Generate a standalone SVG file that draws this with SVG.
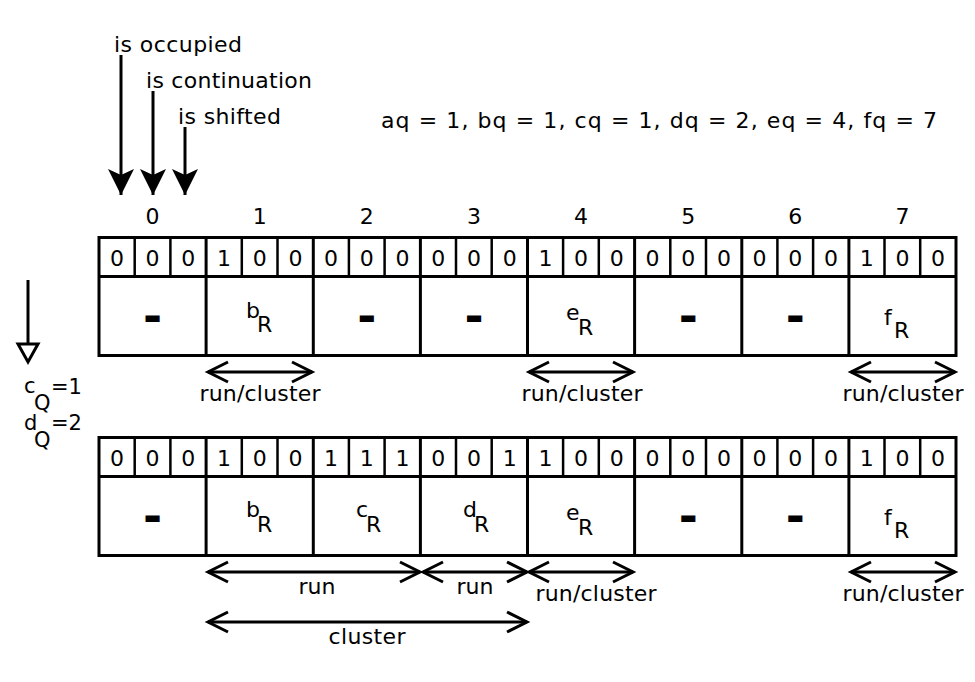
<svg xmlns="http://www.w3.org/2000/svg" width="975" height="682" viewBox="0 0 975 682">
<defs>
<style>
text{font-family:"DejaVu Sans","Liberation Sans",sans-serif;fill:#000}
.t{font-size:22px}
.m{text-anchor:middle}
.bit{font-size:22px;text-anchor:middle}
.idx{font-size:22px;text-anchor:middle}
.q{font-size:21px}
.dash{font-size:46px;font-weight:bold;text-anchor:middle}
.grid{fill:none;stroke:#000;stroke-width:3}
.thin{fill:none;stroke:#000;stroke-width:2.5}
.arr{fill:none;stroke:#000;stroke-width:3}
.dbl{fill:none;stroke:#000;stroke-width:3;marker-start:url(#chev);marker-end:url(#chev)}
</style>
<marker id="head" markerUnits="userSpaceOnUse" orient="auto" markerWidth="30" markerHeight="30" refX="0" refY="0" viewBox="-28 -14 30 28" overflow="visible">
<path d="M0,0 L-26,-13 L-20,0 L-26,13 Z" fill="#000"/>
</marker>
<marker id="chev" markerUnits="userSpaceOnUse" orient="auto-start-reverse" markerWidth="30" markerHeight="30" refX="0" refY="0" viewBox="-28 -14 30 28" overflow="visible">
<path d="M-20,-10 L0,0 L-20,10" fill="none" stroke="#000" stroke-width="3"/>
</marker>
</defs>
<rect width="975" height="682" fill="#fff"/>

<g id="legend">
<text class="t" x="114" y="52" textLength="128" lengthAdjust="spacing">is occupied</text>
<text class="t" x="146" y="88" textLength="166" lengthAdjust="spacing">is continuation</text>
<text class="t" x="178" y="124" textLength="103" lengthAdjust="spacing">is shifted</text>
<text class="t" x="381" y="128" textLength="556" lengthAdjust="spacing">aq = 1, bq = 1, cq = 1, dq = 2, eq = 4, fq = 7</text>
</g>

<g id="connectors">
<line class="arr" x1="121" y1="55" x2="121" y2="195" marker-end="url(#head)"/>
<line class="arr" x1="153" y1="91" x2="153" y2="195" marker-end="url(#head)"/>
<line class="arr" x1="185" y1="127" x2="185" y2="195" marker-end="url(#head)"/>
<line class="arr" x1="28" y1="280" x2="28" y2="344"/>
<polygon points="18,344 38,344 28,362" fill="#fff" stroke="#000" stroke-width="3" stroke-linejoin="miter"/>
<line class="dbl" x1="208" y1="372" x2="312" y2="372"/>
<line class="dbl" x1="529" y1="372" x2="633" y2="372"/>
<line class="dbl" x1="851" y1="372" x2="955" y2="372"/>
<line class="dbl" x1="208" y1="572" x2="420" y2="572"/>
<line class="dbl" x1="423" y1="572" x2="527" y2="572"/>
<line class="dbl" x1="529" y1="572" x2="633" y2="572"/>
<line class="dbl" x1="851" y1="572" x2="955" y2="572"/>
<line class="dbl" x1="208" y1="622" x2="527" y2="622"/>
</g>

<g id="connector-labels">
<text class="t m" x="260" y="401" textLength="121" lengthAdjust="spacing">run/cluster</text>
<text class="t m" x="582" y="401" textLength="121" lengthAdjust="spacing">run/cluster</text>
<text class="t m" x="903" y="401" textLength="121" lengthAdjust="spacing">run/cluster</text>
<text class="t m" x="317" y="594">run</text>
<text class="t m" x="475" y="594">run</text>
<text class="t m" x="596" y="601" textLength="121" lengthAdjust="spacing">run/cluster</text>
<text class="t m" x="903" y="601" textLength="121" lengthAdjust="spacing">run/cluster</text>
<text class="t m" x="367" y="644" textLength="77" lengthAdjust="spacing">cluster</text>
</g>

<g id="quotients">
<text class="q" x="24" y="393">c<tspan x="34" y="410">Q</tspan><tspan x="51" y="394">=1</tspan></text>
<text class="q" x="24" y="430">d<tspan x="34" y="447">Q</tspan><tspan x="51" y="430">=2</tspan></text>
</g>

<g id="indices">
<text class="idx" x="152.6" y="224">0</text>
<text class="idx" x="259.7" y="224">1</text>
<text class="idx" x="366.8" y="224">2</text>
<text class="idx" x="474" y="224">3</text>
<text class="idx" x="581" y="224">4</text>
<text class="idx" x="688.2" y="224">5</text>
<text class="idx" x="795.3" y="224">6</text>
<text class="idx" x="902.4" y="224">7</text>
</g>

<g id="table1">
<rect class="grid" x="99" y="237.5" width="857" height="118"/>
<line class="grid" x1="99" y1="276.5" x2="956" y2="276.5"/>
<g class="thin">
<line x1="134.7" y1="237.5" x2="134.7" y2="276.5"/><line x1="170.4" y1="237.5" x2="170.4" y2="276.5"/>
<line x1="241.8" y1="237.5" x2="241.8" y2="276.5"/><line x1="277.5" y1="237.5" x2="277.5" y2="276.5"/>
<line x1="348.9" y1="237.5" x2="348.9" y2="276.5"/><line x1="384.6" y1="237.5" x2="384.6" y2="276.5"/>
<line x1="456" y1="237.5" x2="456" y2="276.5"/><line x1="491.7" y1="237.5" x2="491.7" y2="276.5"/>
<line x1="563.1" y1="237.5" x2="563.1" y2="276.5"/><line x1="598.8" y1="237.5" x2="598.8" y2="276.5"/>
<line x1="670.3" y1="237.5" x2="670.3" y2="276.5"/><line x1="706" y1="237.5" x2="706" y2="276.5"/>
<line x1="777.4" y1="237.5" x2="777.4" y2="276.5"/><line x1="813.1" y1="237.5" x2="813.1" y2="276.5"/>
<line x1="884.5" y1="237.5" x2="884.5" y2="276.5"/><line x1="920.2" y1="237.5" x2="920.2" y2="276.5"/>
</g>
<g class="grid">
<line x1="206.1" y1="237.5" x2="206.1" y2="355.5"/><line x1="313.3" y1="237.5" x2="313.3" y2="355.5"/>
<line x1="420.4" y1="237.5" x2="420.4" y2="355.5"/><line x1="527.5" y1="237.5" x2="527.5" y2="355.5"/>
<line x1="634.6" y1="237.5" x2="634.6" y2="355.5"/><line x1="741.8" y1="237.5" x2="741.8" y2="355.5"/>
<line x1="848.9" y1="237.5" x2="848.9" y2="355.5"/>
</g>
<g class="bits">
<text class="bit" x="116.9" y="266">0</text><text class="bit" x="152.6" y="266">0</text><text class="bit" x="188.3" y="266">0</text>
<text class="bit" x="224" y="266">1</text><text class="bit" x="259.7" y="266">0</text><text class="bit" x="295.4" y="266">0</text>
<text class="bit" x="331.1" y="266">0</text><text class="bit" x="366.8" y="266">0</text><text class="bit" x="402.5" y="266">0</text>
<text class="bit" x="438.2" y="266">0</text><text class="bit" x="474" y="266">0</text><text class="bit" x="509.7" y="266">0</text>
<text class="bit" x="545.4" y="266">1</text><text class="bit" x="581.1" y="266">0</text><text class="bit" x="616.8" y="266">0</text>
<text class="bit" x="652.5" y="266">0</text><text class="bit" x="688.2" y="266">0</text><text class="bit" x="723.9" y="266">0</text>
<text class="bit" x="759.6" y="266">0</text><text class="bit" x="795.3" y="266">0</text><text class="bit" x="831" y="266">0</text>
<text class="bit" x="866.7" y="266">1</text><text class="bit" x="902.4" y="266">0</text><text class="bit" x="938.1" y="266">0</text>
</g>
<text class="dash" x="152.6" y="332">-</text>
<text class="dash" x="366.8" y="332">-</text>
<text class="dash" x="474" y="332">-</text>
<text class="dash" x="688.2" y="332">-</text>
<text class="dash" x="795.3" y="332">-</text>
<text class="t" x="246" y="318">b<tspan x="257" y="332">R</tspan></text>
<text class="t" x="566" y="320">e<tspan x="578" y="335">R</tspan></text>
<text class="t" x="884" y="325">f<tspan x="894" y="338">R</tspan></text>
</g>

<g id="table2">
<rect class="grid" x="99" y="437.5" width="857" height="118"/>
<line class="grid" x1="99" y1="476.5" x2="956" y2="476.5"/>
<g class="thin">
<line x1="134.7" y1="437.5" x2="134.7" y2="476.5"/><line x1="170.4" y1="437.5" x2="170.4" y2="476.5"/>
<line x1="241.8" y1="437.5" x2="241.8" y2="476.5"/><line x1="277.5" y1="437.5" x2="277.5" y2="476.5"/>
<line x1="348.9" y1="437.5" x2="348.9" y2="476.5"/><line x1="384.6" y1="437.5" x2="384.6" y2="476.5"/>
<line x1="456" y1="437.5" x2="456" y2="476.5"/><line x1="491.7" y1="437.5" x2="491.7" y2="476.5"/>
<line x1="563.1" y1="437.5" x2="563.1" y2="476.5"/><line x1="598.8" y1="437.5" x2="598.8" y2="476.5"/>
<line x1="670.3" y1="437.5" x2="670.3" y2="476.5"/><line x1="706" y1="437.5" x2="706" y2="476.5"/>
<line x1="777.4" y1="437.5" x2="777.4" y2="476.5"/><line x1="813.1" y1="437.5" x2="813.1" y2="476.5"/>
<line x1="884.5" y1="437.5" x2="884.5" y2="476.5"/><line x1="920.2" y1="437.5" x2="920.2" y2="476.5"/>
</g>
<g class="grid">
<line x1="206.1" y1="437.5" x2="206.1" y2="555.5"/><line x1="313.3" y1="437.5" x2="313.3" y2="555.5"/>
<line x1="420.4" y1="437.5" x2="420.4" y2="555.5"/><line x1="527.5" y1="437.5" x2="527.5" y2="555.5"/>
<line x1="634.6" y1="437.5" x2="634.6" y2="555.5"/><line x1="741.8" y1="437.5" x2="741.8" y2="555.5"/>
<line x1="848.9" y1="437.5" x2="848.9" y2="555.5"/>
</g>
<g class="bits">
<text class="bit" x="116.9" y="466">0</text><text class="bit" x="152.6" y="466">0</text><text class="bit" x="188.3" y="466">0</text>
<text class="bit" x="224" y="466">1</text><text class="bit" x="259.7" y="466">0</text><text class="bit" x="295.4" y="466">0</text>
<text class="bit" x="331.1" y="466">1</text><text class="bit" x="366.8" y="466">1</text><text class="bit" x="402.5" y="466">1</text>
<text class="bit" x="438.2" y="466">0</text><text class="bit" x="474" y="466">0</text><text class="bit" x="509.7" y="466">1</text>
<text class="bit" x="545.4" y="466">1</text><text class="bit" x="581.1" y="466">0</text><text class="bit" x="616.8" y="466">0</text>
<text class="bit" x="652.5" y="466">0</text><text class="bit" x="688.2" y="466">0</text><text class="bit" x="723.9" y="466">0</text>
<text class="bit" x="759.6" y="466">0</text><text class="bit" x="795.3" y="466">0</text><text class="bit" x="831" y="466">0</text>
<text class="bit" x="866.7" y="466">1</text><text class="bit" x="902.4" y="466">0</text><text class="bit" x="938.1" y="466">0</text>
</g>
<text class="dash" x="152.6" y="532">-</text>
<text class="dash" x="688.2" y="532">-</text>
<text class="dash" x="795.3" y="532">-</text>
<text class="t" x="246" y="517">b<tspan x="257" y="532">R</tspan></text>
<text class="t" x="356" y="517">c<tspan x="366" y="532">R</tspan></text>
<text class="t" x="463" y="517">d<tspan x="474" y="532">R</tspan></text>
<text class="t" x="566" y="520">e<tspan x="578" y="535">R</tspan></text>
<text class="t" x="884" y="525">f<tspan x="894" y="538">R</tspan></text>
</g>
</svg>
